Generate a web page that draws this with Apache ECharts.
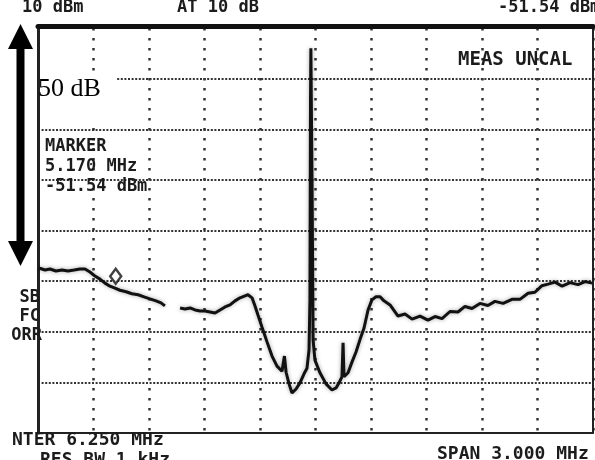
<!DOCTYPE html>
<html>
<head>
<meta charset="utf-8">
<title>Spectrum analyzer trace</title>
<script src="https://cdn.jsdelivr.net/npm/echarts@6/dist/echarts.min.js"></script>
<style>
  html, body { margin: 0; padding: 0; background: #ffffff; }
  #chart { width: 595px; height: 460px; }
</style>
</head>
<body>
<div id="chart"></div>
<script>
// Sweep settings (MHz) and display scale (dBm, 10 dB per division)
const centerMHz = 6.25;
const spanMHz = 3.0;
const refLevel = -2.5;
const dbPerDiv = 10;
const horizDivs = 10;
const vertDivs = 8;

// Trace, first sweep segment (before the gap)
const freqLeft = [4.755, 4.788, 4.815, 4.847, 4.880, 4.912, 4.945, 4.977, 5.004, 5.031,
  5.058, 5.085, 5.112, 5.139, 5.166, 5.193, 5.226, 5.258, 5.291, 5.323, 5.355, 5.388, 5.415, 5.436];
const levelLeft = [-49.9, -50.3, -50.1, -50.5, -50.3, -50.5, -50.3, -50.1, -50.1, -50.7,
  -51.5, -52.1, -52.9, -53.5, -53.9, -54.3, -54.6, -55.0, -55.2, -55.6, -56.0, -56.4, -56.8, -57.4];

// Trace, second segment: notch, carrier and the rising skirt
const freqRight = [5.518, 5.545, 5.572, 5.599, 5.626, 5.653, 5.680, 5.707, 5.734, 5.761,
  5.788, 5.815, 5.842, 5.869, 5.885, 5.907, 5.923, 5.939, 5.961, 5.988,
  6.015, 6.042, 6.069, 6.082, 6.091, 6.107, 6.123, 6.145, 6.166, 6.188,
  6.204, 6.215, 6.220, 6.223, 6.225, 6.229, 6.232, 6.237, 6.247, 6.274,
  6.307, 6.339, 6.361, 6.377, 6.393, 6.399, 6.404, 6.426, 6.447, 6.469,
  6.490, 6.512, 6.534, 6.555, 6.577, 6.599, 6.620, 6.653, 6.696, 6.734,
  6.772, 6.815, 6.858, 6.896, 6.934, 6.977, 7.020, 7.058, 7.096, 7.139,
  7.182, 7.220, 7.264, 7.312, 7.355, 7.399, 7.436, 7.474, 7.507, 7.545,
  7.583, 7.626, 7.669, 7.707, 7.745];
const levelRight = [-57.8, -58.0, -57.8, -58.2, -58.4, -58.4, -58.6, -58.8, -58.2, -57.6,
  -57.2, -56.4, -55.8, -55.4, -55.2, -55.8, -57.4, -59.2, -61.6, -64.5,
  -67.3, -69.3, -70.3, -67.3, -70.5, -72.8, -74.6, -73.8, -72.6, -70.8,
  -69.7, -66.1, -56.2, -16.7, -6.5, -6.5, -36.5, -64.1, -68.1, -70.6,
  -72.8, -74.0, -73.6, -72.6, -71.4, -64.7, -71.4, -70.6, -68.5, -66.5,
  -64.1, -61.8, -58.2, -56.2, -55.6, -55.6, -56.4, -57.2, -59.4, -59.0,
  -60.0, -59.4, -60.2, -59.5, -59.9, -58.5, -58.6, -57.5, -57.9, -56.9,
  -57.3, -56.5, -56.9, -56.1, -56.1, -54.9, -54.7, -53.4, -53.1, -52.7,
  -53.5, -52.8, -53.2, -52.6, -52.9];

// Marker readout
const markerFreq = 5.170;
const markerLevel = -51.54;

// Screen annotations
const markerLines = ['MARKER', '5.170 MHz', '-51.54 dBm'];
const statusLabels = ['SB', 'FC', 'ORR'];
const topLeftText = '10 dBm';
const topCenterText = 'AT 10 dB';
const topRightText = '-51.54 dBm';
const bottomLeftText = 'NTER 6.250 MHz';
const bottomLeftText2 = 'RES BW 1 kHz';
const bottomRightText = 'SPAN 3.000 MHz';
const uncalText = 'MEAS UNCAL';
const scaleText = '50 dB';

const startFreq = centerMHz - spanMHz / 2;
const stopFreq = centerMHz + spanMHz / 2;
const bottomLevel = refLevel - dbPerDiv * vertDivs;

const pair = (xs, ys) => xs.map((x, i) => [x, ys[i]]);

const mono = "bold 17px 'DejaVu Sans Mono', monospace";
const monoL = "bold 18px 'DejaVu Sans Mono', monospace";
const ink = '#1c1c1c';

function txt(text, x, y, font, align) {
  return {
    type: 'text', x: x, y: y, z: 120,
    style: { text: text, font: font, fill: ink, align: align || 'left', verticalAlign: 'middle' }
  };
}

const traceStyle = { color: '#111', width: 3, shadowColor: 'rgba(0,0,0,0.35)', shadowBlur: 4 };

const chart = echarts.init(document.getElementById('chart'), null, { renderer: 'canvas' });

const graphics = [
  // double-headed arrow spanning 50 dB
  { type: 'rect', z: 110, shape: { x: 16.5, y: 44, width: 8, height: 202 }, style: { fill: '#000' } },
  { type: 'polygon', z: 110, shape: { points: [[20.5, 24], [33, 49], [8, 49]] }, style: { fill: '#000' } },
  { type: 'polygon', z: 110, shape: { points: [[20.5, 266], [33, 241], [8, 241]] }, style: { fill: '#000' } },
  // label box
  { type: 'rect', z: 115, shape: { x: 40, y: 73, width: 77, height: 49 }, style: { fill: '#ffffff' } },
  { type: 'text', z: 120, x: 38, y: 89,
    style: { text: scaleText, font: "26px 'Liberation Serif', 'Times New Roman', serif", fill: '#000', verticalAlign: 'middle' } },
  txt(markerLines[0], 45, 147, mono),
  txt(markerLines[1], 45, 167, mono),
  txt(markerLines[2], 45, 187, mono),
  txt(uncalText, 458, 60, "bold 19px 'DejaVu Sans Mono', monospace"),
  txt(statusLabels[0], 40, 298, mono, 'right'),
  txt(statusLabels[1], 40, 317, mono, 'right'),
  txt(statusLabels[2], 42, 336, mono, 'right'),
  txt(topLeftText, 22, 8, mono),
  txt(topCenterText, 177, 8, mono),
  txt(topRightText, 498, 8, mono),
  txt(bottomLeftText, 12, 440, monoL),
  txt(bottomLeftText2, 40, 460, monoL),
  txt(bottomRightText, 437, 454, monoL)
];

chart.setOption({
  animation: false,
  backgroundColor: '#ffffff',
  grid: { left: 38, right: 2, top: 28, bottom: 27, containLabel: false },
  xAxis: [
    {
      // division grid (10 horizontal divisions)
      type: 'value', min: 0, max: horizDivs, interval: 1, position: 'bottom',
      axisLine: { show: true, onZero: false, lineStyle: { color: '#222', width: 2 } },
      axisTick: { show: false }, axisLabel: { show: false },
      splitLine: { show: true, lineStyle: { color: '#333', width: 2.5, type: [2.5, 7.5] } }
    },
    {
      // frequency axis for the trace
      type: 'value', min: startFreq, max: stopFreq, position: 'top', offset: 2,
      axisLine: { show: true, onZero: false, lineStyle: { color: '#111', width: 5 } },
      axisTick: { show: false }, axisLabel: { show: false }, splitLine: { show: false }
    }
  ],
  yAxis: [
    {
      // division grid (8 vertical divisions)
      type: 'value', min: 0, max: vertDivs, interval: 1, position: 'left',
      axisLine: { show: true, onZero: false, lineStyle: { color: '#222', width: 3 } },
      axisTick: { show: false }, axisLabel: { show: false },
      splitLine: { show: true, lineStyle: { color: '#333', width: 2, type: [2, 1.6] } }
    },
    {
      // level axis for the trace (dBm)
      type: 'value', min: bottomLevel, max: refLevel, position: 'right',
      axisLine: { show: true, onZero: false, lineStyle: { color: '#222', width: 2 } },
      axisTick: { show: false }, axisLabel: { show: false }, splitLine: { show: false }
    }
  ],
  series: [
    {
      type: 'line', xAxisIndex: 1, yAxisIndex: 1, data: pair(freqLeft, levelLeft),
      showSymbol: false, silent: true, lineStyle: traceStyle
    },
    {
      type: 'line', xAxisIndex: 1, yAxisIndex: 1, data: pair(freqRight, levelRight),
      showSymbol: false, silent: true, lineStyle: traceStyle
    },
    {
      type: 'scatter', xAxisIndex: 1, yAxisIndex: 1, data: [[markerFreq, markerLevel]],
      symbol: 'diamond', symbolSize: [11, 15], z: 5,
      itemStyle: { color: '#ffffff', borderColor: '#111', borderWidth: 2.5 }
    }
  ],
  graphic: graphics
});
</script>
</body>
</html>
